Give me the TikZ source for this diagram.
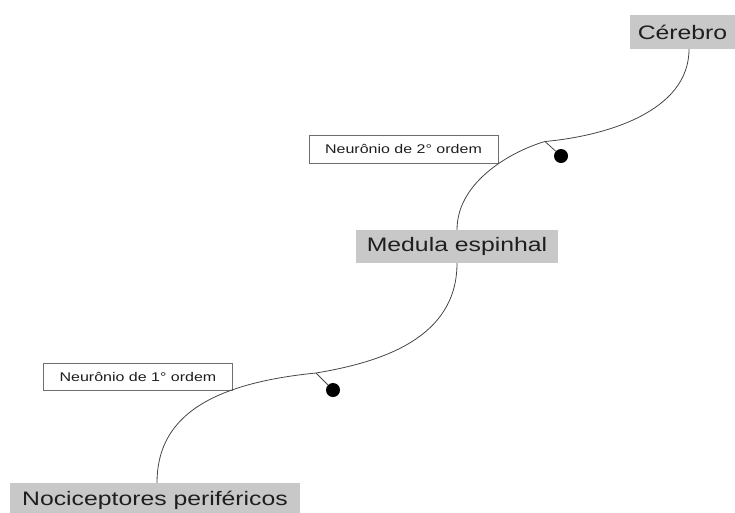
\documentclass[tikz,border=0pt]{standalone}
\usepackage{graphicx}
\usepackage{fontspec}
\setmainfont{Liberation Sans}
\definecolor{boxgray}{RGB}{200,200,200}
\definecolor{inkgray}{RGB}{30,30,30}
\definecolor{linegray}{RGB}{70,70,70}
\definecolor{framegray}{RGB}{110,110,110}
\newcommand{\wideBig}[1]{\scalebox{1.27}[1]{\fontsize{19.5}{22}\selectfont #1}}
\newcommand{\wideSmall}[1]{\scalebox{1.27}[1]{\fontsize{12.6}{15}\selectfont #1}}
\begin{document}
\begin{tikzpicture}[x=1pt,y=-1pt,
  region/.style={fill=boxgray,text=inkgray,inner sep=0pt,anchor=center},
  tag/.style={draw=framegray,line width=0.8pt,fill=white,text=inkgray,inner sep=0pt,anchor=center},
  fibre/.style={draw=linegray,line width=0.8pt},
  tick/.style={draw=linegray,line width=0.8pt},
  soma/.style={circle,fill=black,inner sep=0pt,minimum size=14pt}]
\useasboundingbox (0,0) rectangle (735,512);
% boxes
\node[region,minimum width=105pt,minimum height=34pt] (cer) at (682.5,32) {\wideBig{Cérebro}};
\node[region,minimum width=202pt,minimum height=33pt] (med) at (457,246.5) {\wideBig{Medula espinhal}};
\node[region,minimum width=290pt,minimum height=34pt] (noc) at (155,500) {\wideBig{Nociceptores periféricos}};
\node[tag,minimum width=189pt,minimum height=28pt] (n2) at (403.5,149) {\wideSmall{Neurônio de 2° ordem}};
\node[tag,minimum width=189pt,minimum height=27pt] (n1) at (138,376.5) {\wideSmall{Neurônio de 1° ordem}};
% somas
\node[soma] (d2) at (561,156) {};
\node[soma] (d1) at (333,390) {};
% fibres
\coordinate (m2) at (545,141.5);
\coordinate (m1) at (316,373);
\draw[fibre] ([xshift=6.5pt]cer.south) .. controls (689,112) and (605,136) .. (m2)
  .. controls (515,150) and (457,180) .. (med.north);
\draw[fibre] (med.south) .. controls (457,338) and (382,362) .. (m1)
  .. controls (205,384) and (157,420) .. ([xshift=2pt]noc.north);
\draw[tick] (m2) -- (d2);
\draw[tick] (m1) -- (d1);
\end{tikzpicture}
\end{document}
